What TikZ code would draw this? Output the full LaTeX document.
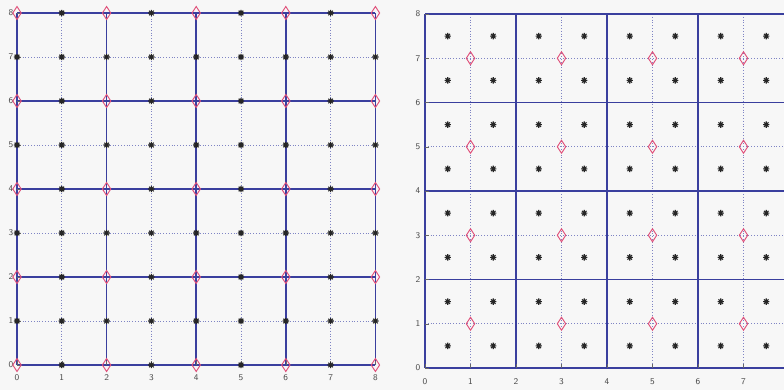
\documentclass[tikz,border=0pt]{standalone}
\usetikzlibrary{calc}
\definecolor{gridblue}{HTML}{3A3F9E}
\definecolor{dotblue}{HTML}{7F84C4}
\definecolor{dred}{HTML}{E0507A}
\definecolor{bg}{HTML}{F7F7F7}
\begin{document}
\begin{tikzpicture}[x=0.3mm,y=-0.3mm,
  solidline/.style={gridblue, line width=1.4pt},
  dotline/.style={dotblue, dash pattern=on 0.8pt off 1.6pt, line width=0.7pt},
  diam/.pic={\draw[dred, line width=0.8pt] (0,-6.5) -- (4.2,0) -- (0,6.5) -- (-4.2,0) -- cycle;},
  ast/.pic={\draw[black!85, line width=1pt] (-3.2,0) -- (3.2,0) (0,-3.2) -- (0,3.2) (-2.3,-2.3) -- (2.3,2.3) (-2.3,2.3) -- (2.3,-2.3);},
  ticklab/.style={font=\sffamily\fontsize{7.5}{8}\selectfont, text=black!70, inner sep=0pt},
  tickmark/.style={black!60, line width=0.4pt}]
\fill[bg] (0,0) rectangle (784,390);
\useasboundingbox (0,0) rectangle (784,390);
% ---------------- left plot ----------------
\begin{scope}
  \foreach \i in {1,3,5,7} {
    \draw[dotline] ({17+44.8*\i},13) -- ({17+44.8*\i},365);
    \draw[dotline] (17,{365-44*\i}) -- (375.4,{365-44*\i});
  }
  \foreach \i in {0,2,4,6,8} {
    \draw[solidline] ({17+44.8*\i},13) -- ({17+44.8*\i},365);
    \draw[solidline] (17,{365-44*\i}) -- (375.4,{365-44*\i});
  }
  \foreach \i in {0,...,8} {
    \draw[tickmark] ({17+44.8*\i},365) -- ({17+44.8*\i},361);
    \draw[tickmark] (17,{365-44*\i}) -- (21,{365-44*\i});
    \node[ticklab] at ({17+44.8*\i},378) {\i};
    \node[ticklab] at (11,{365-44*\i}) {\i};
  }
  \foreach \i in {0,2,4,6,8} \foreach \j in {0,2,4,6,8}
    \pic at ({17+44.8*\i},{365-44*\j}) {diam};
  \foreach \i in {1,3,5,7} \foreach \j in {0,...,8}
    \pic at ({17+44.8*\i},{365-44*\j}) {ast};
  \foreach \i in {0,2,4,6,8} \foreach \j in {1,3,5,7}
    \pic at ({17+44.8*\i},{365-44*\j}) {ast};
\end{scope}
% ---------------- right plot ----------------
\begin{scope}
  \clip (0,0) rectangle (784,390);
  \foreach \i in {1,3,5,7} {
    \draw[dotline] ({425+45.5*\i},14) -- ({425+45.5*\i},368);
    \draw[dotline] (425,{368-44.25*\i}) -- (789,{368-44.25*\i});
  }
  \foreach \i in {0,2,4,6,8} {
    \draw[solidline] ({425+45.5*\i},14) -- ({425+45.5*\i},368);
    \draw[solidline] (425,{368-44.25*\i}) -- (789,{368-44.25*\i});
  }
  \foreach \i in {0,...,8} {
    \draw[tickmark] ({425+45.5*\i},368) -- ({425+45.5*\i},364);
    \draw[tickmark] (425,{368-44.25*\i}) -- (429,{368-44.25*\i});
    \node[ticklab] at (418,{368-44.25*\i}) {\i};
  }
  \foreach \i in {0,...,7}
    \node[ticklab] at ({425+45.5*\i},382) {\i};
  \foreach \i in {1,3,5,7} \foreach \j in {1,3,5,7}
    \pic at ({425+45.5*\i},{368-44.25*\j}) {diam};
  \foreach \i in {0.5,1.5,...,7.5} \foreach \j in {0.5,1.5,...,7.5}
    \pic at ({425+45.5*\i},{368-44.25*\j}) {ast};
\end{scope}
\end{tikzpicture}
\end{document}
